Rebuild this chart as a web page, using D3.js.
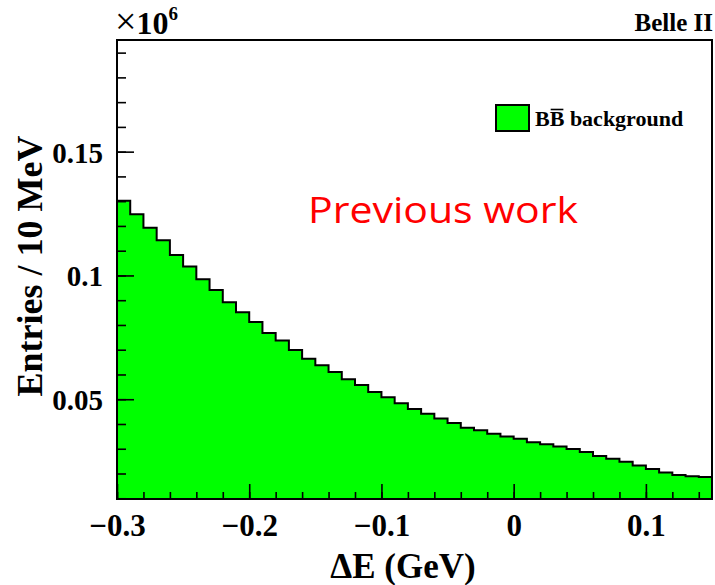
<!DOCTYPE html>
<html>
<head>
<meta charset="utf-8">
<script src="https://cdn.jsdelivr.net/npm/d3@7"></script>
<style>
  html, body { margin: 0; padding: 0; background: #fff; }
  svg { display: block; }
  .serif { font-family: "Liberation Serif", "Times New Roman", serif; font-weight: bold; }
</style>
</head>
<body>
<svg id="chart" width="715" height="585"></svg>
<script>
// ΔE distribution of the BB̄ background, 10 MeV bins, entries in units of 10^6
const binLowEdges = d3.range(45).map(i => +(-0.3 + i * 0.01).toFixed(2));
const entries = [
  0.1302, 0.1247, 0.1193, 0.1142, 0.1083, 0.1036, 0.0985, 0.0941, 0.0892, 0.0851,
  0.0812, 0.0768, 0.0737, 0.0699, 0.0664, 0.0637, 0.0610, 0.0581, 0.0557, 0.0529,
  0.0508, 0.0484, 0.0461, 0.0441, 0.0422, 0.0404, 0.0385, 0.0375, 0.0361, 0.0349,
  0.0340, 0.0326, 0.0318, 0.0309, 0.0299, 0.0287, 0.0271, 0.0260, 0.0247, 0.0232,
  0.0218, 0.0204, 0.0194, 0.0189, 0.0186
];
const xDomain = [-0.3, 0.15];
const yDomain = [0.0097, 0.1951];
const xMajorTicks = [-0.3, -0.2, -0.1, 0, 0.1];
const xMinorTicks = d3.range(23).map(i => +(-0.3 + i * 0.02).toFixed(2));
const yMajorTicks = [0.05, 0.1, 0.15];
const yMinorTicks = d3.range(19).map(i => +(0.01 + i * 0.01).toFixed(2));
const legendLabel = "background";

const frame = { left: 117, right: 712, top: 40, bottom: 499 };
const svg = d3.select("#chart");

const x = d3.scaleLinear().domain(xDomain).range([frame.left, frame.right]);
const y = d3.scaleLinear().domain(yDomain).range([frame.bottom, frame.top]);

// histogram as a step curve
const pts = entries.map((v, i) => ({ x: binLowEdges[i], y: v }));
pts.push({ x: xDomain[1], y: entries[entries.length - 1] });

const area = d3.area()
  .x(d => x(d.x)).y0(frame.bottom).y1(d => y(d.y))
  .curve(d3.curveStepAfter);
const line = d3.line()
  .x(d => x(d.x)).y(d => y(d.y))
  .curve(d3.curveStepAfter);

svg.append("path").attr("d", area(pts)).attr("fill", "#00ff00");
svg.append("path").attr("d", line(pts))
  .attr("fill", "none").attr("stroke", "#000").attr("stroke-width", 2);

// axes: ticks point into the frame
function styleAxis(g) {
  g.select(".domain").remove();
  g.selectAll(".tick line").attr("stroke", "#000").attr("stroke-width", 1.6);
}

svg.append("g")
  .attr("transform", `translate(0,${frame.bottom})`)
  .call(d3.axisBottom(x).tickValues(xMinorTicks).tickSize(-7).tickFormat(""))
  .call(styleAxis);

const xAxis = svg.append("g")
  .attr("transform", `translate(0,${frame.bottom})`)
  .call(d3.axisBottom(x).tickValues(xMajorTicks).tickSize(-15).tickFormat(d3.format("")))
  .call(styleAxis);
xAxis.selectAll(".tick text")
  .attr("class", "serif").attr("y", 37).attr("dy", null)
  .attr("font-size", 31).attr("fill", "#000");

svg.append("g")
  .attr("transform", `translate(${frame.left},0)`)
  .call(d3.axisLeft(y).tickValues(yMinorTicks).tickSize(-9).tickFormat(""))
  .call(styleAxis);

const yAxis = svg.append("g")
  .attr("transform", `translate(${frame.left},0)`)
  .call(d3.axisLeft(y).tickValues(yMajorTicks).tickSize(-17).tickFormat(d => String(d)))
  .call(styleAxis);
yAxis.selectAll(".tick text")
  .attr("class", "serif").attr("x", -14).attr("dy", "0.36em")
  .attr("font-size", 29).attr("fill", "#000");

// frame
svg.append("rect")
  .attr("x", frame.left).attr("y", frame.top)
  .attr("width", frame.right - frame.left).attr("height", frame.bottom - frame.top)
  .attr("fill", "none").attr("stroke", "#000").attr("stroke-width", 2);

// axis titles
svg.append("text").attr("class", "serif")
  .attr("x", 403).attr("y", 578).attr("text-anchor", "middle")
  .attr("font-size", 35).text("ΔE (GeV)");

svg.append("text").attr("class", "serif")
  .attr("transform", "translate(42,266) rotate(-90)")
  .attr("text-anchor", "middle").attr("font-size", 36)
  .text("Entries / 10 MeV");

// exponent
const expo = svg.append("text").attr("class", "serif")
  .attr("x", 115).attr("y", 34).attr("font-size", 32);
expo.append("tspan").attr("font-weight", "normal").attr("font-size", 38).text("×");
expo.append("tspan").text("10");
expo.append("tspan").attr("dy", -14).attr("font-size", 19).text("6");

// experiment label
svg.append("text").attr("class", "serif")
  .attr("x", 713).attr("y", 31).attr("text-anchor", "end")
  .attr("font-size", 25).text("Belle II");

// legend
svg.append("rect")
  .attr("x", 496).attr("y", 105).attr("width", 33).attr("height", 26)
  .attr("fill", "#00ff00").attr("stroke", "#000").attr("stroke-width", 2);
const legText = svg.append("text").attr("class", "serif")
  .attr("x", 535).attr("y", 126).attr("font-size", 22);
legText.append("tspan").text("B");
legText.append("tspan").text("B");
legText.append("tspan").text(" " + legendLabel);
{
  const node = legText.node();
  const start = node.getSubStringLength(0, 1);
  const w = node.getSubStringLength(1, 1);
  svg.append("line")
    .attr("x1", 535 + start + 1).attr("x2", 535 + start + w - 1)
    .attr("y1", 109.5).attr("y2", 109.5)
    .attr("stroke", "#000").attr("stroke-width", 1.6);
}

// annotation
svg.append("text")
  .attr("x", 308).attr("y", 223)
  .attr("font-family", "'Open Sans', 'Noto Sans', sans-serif")
  .attr("font-size", 37).attr("fill", "#ff0000")
  .attr("textLength", 270).attr("lengthAdjust", "spacingAndGlyphs")
  .text("Previous work");
</script>
</body>
</html>
